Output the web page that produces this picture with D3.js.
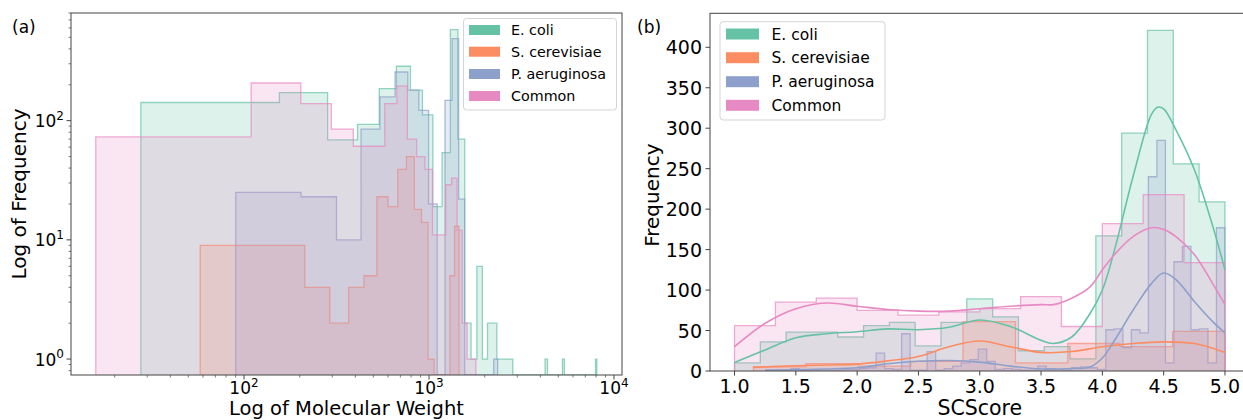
<!DOCTYPE html>
<html><head><meta charset="utf-8">
<script src="https://cdn.jsdelivr.net/npm/d3@7"></script>
<style>body{margin:0;background:#fff} svg{display:block} text{font-family:"DejaVu Sans",sans-serif;fill:#000}</style>
</head><body><svg id="c" width="1243" height="420"></svg>
<script>
// ---------- shared ----------
const seriesNames = ["E. coli", "S. cerevisiae", "P. aeruginosa", "Common"];
const seriesColors = ["#66c2a5", "#fc8d62", "#8da0cb", "#e78ac3"];

// ---------- panel (a): molecular weight histograms (linear bins, log axes) ----------
const mwBinStart = [27.7, 58, 90.2, 15.8];
const mwBinWidth = [127.7, 77.5, 113, 93.5];
const mwEcoli = [142,172,69,93,186,286,180,112,19,54,580,70,2,1,6,1,2,2,1,1,1,1,
  0,0,0,0,0,0,0,0,0,0,0,1,0,0,0,0,0,0,0,1,0,0,0,0,0,0,0,0,0,0,0,0,0,0,0,0,0,0,0,0,1];
const mwScer = [9,9,4,2,4,5,23,19,39,50,18,14,1,0,0,0,5,13];
const mwPaer = [25,23,10,85,158,256,180,122,20,0,148,488,22,0,0,0,0,0,0,1];
const mwCommon = [73,207,139,85,61,61,139,195,70,50,39,11,11,29,33,12,2,1,1];
const mwCounts = [mwEcoli, mwScer, mwPaer, mwCommon];
const mwXTicks = [100, 1000, 10000];
const mwXTickExp = ["2", "3", "4"];
const mwYTicks = [1, 10, 100];
const mwYTickExp = ["0", "1", "2"];

// ---------- panel (b): SCScore histograms + KDE ----------
const scBinStart = [1.0, 1.155, 1.2524, 1.0];
const scBinWidth = [0.2105, 0.4272, 0.0694, 0.3333];
const scEcoli = [10,36,48,48,42,56,60,31,60,89,67,25,30,15,167,294,421,256,209];
const scScer = [5,9,6,12,61,10,34,30,49];
const scPaer = [1,1,1,3,1,1,1,1,1,2,2,3,4,22,3,2,46,1,1,24,1,3,6,10,14,27,12,2,3,2,1,1,6,3,2,1,4,5,4,2,
  51,52,29,51,47,240,285,10,135,154,51,52,10,177];
const scCommon = [56,85,90,75,69,73,77,92,55,182,218,134];
const scCounts = [scEcoli, scScer, scPaer, scCommon];

const kdeEcoliX = [1.0,1.25,1.5,1.75,2.0,2.25,2.5,2.75,3.0,3.25,3.5,3.6,3.75,3.9,4.0,4.1,4.25,4.4,4.45,4.5,4.6,4.75,4.9,5.0];
const kdeEcoliY = [10.5,26,41,46,48.5,52,51,54,63,55,38,34,42,71,100,150,240,317,326,324,298,249,179,125];
const kdeScerX = [1.15,1.5,1.75,2.0,2.25,2.5,2.75,3.0,3.25,3.5,3.75,4.0,4.25,4.5,4.75,5.0];
const kdeScerY = [4.5,6.5,7.5,8.5,12.5,18,30,37,30,23,24,30,34,36,34,23];
const kdePaerX = [1.25,1.5,1.75,2.0,2.25,2.5,2.75,3.0,3.25,3.5,3.75,3.9,4.0,4.1,4.25,4.4,4.5,4.6,4.75,4.9,5.0];
const kdePaerY = [1,1.5,2.5,4,9,12,13,11,6,2.5,3,5,16,38,75,108,121,113,86,61,47];
const kdeCommonX = [1.0,1.25,1.5,1.75,2.0,2.25,2.5,2.75,3.0,3.25,3.5,3.6,3.75,3.9,4.0,4.1,4.25,4.4,4.5,4.6,4.75,4.9,5.0];
const kdeCommonY = [30,59,77,84,80,76,74,74,77,80,82,82,90,104,125,144,166,177,175,166,144,108,82];
const kdeX = [kdeEcoliX, kdeScerX, kdePaerX, kdeCommonX];
const kdeY = [kdeEcoliY, kdeScerY, kdePaerY, kdeCommonY];
const scXTicks = [1.0,1.5,2.0,2.5,3.0,3.5,4.0,4.5,5.0];
const scYTicks = [0,50,100,150,200,250,300,350,400];

// ---------- drawing ----------
const svg = d3.select("#c");
const FILL_OP = 0.22, LINE_OP = 0.7;

function stepPoints(start, width, counts, floor) {
  const e = i => start + i * width;
  const pts = [[e(0), floor]];
  counts.forEach((c, i) => {
    const v = c > 0 ? c : floor;
    pts.push([e(i), v]); pts.push([e(i + 1), v]);
  });
  pts.push([e(counts.length), floor]);
  return pts;
}

// ===== Panel A =====
const A = {l: 71, r: 622, t: 13, b: 375};
const xA = d3.scaleLog().domain([11.61, 11046]).range([A.l, A.r]);
const yA = d3.scaleLog().domain([0.735, 800]).range([A.b, A.t]);
svg.append("clipPath").attr("id", "clipA").append("rect")
  .attr("x", A.l).attr("y", A.t).attr("width", A.r - A.l).attr("height", A.b - A.t);
const gA = svg.append("g").attr("clip-path", "url(#clipA)");
const floorA = yA.domain()[0];
const lineA = d3.line().x(d => xA(d[0])).y(d => yA(d[1]));
mwCounts.forEach((counts, s) => {
  const pts = stepPoints(mwBinStart[s], mwBinWidth[s], counts, floorA);
  gA.append("path").attr("d", lineA(pts) + "Z")
    .attr("fill", seriesColors[s]).attr("fill-opacity", FILL_OP).attr("stroke", "none");
  gA.append("path").attr("d", lineA(pts))
    .attr("fill", "none").attr("stroke", seriesColors[s]).attr("stroke-opacity", LINE_OP)
    .attr("stroke-width", 1.3);
});

// axes A
const axisColor = "#444";
const gAx = svg.append("g");
xA.ticks().forEach(v => {
  const major = mwXTicks.includes(v);
  gAx.append("line").attr("x1", xA(v)).attr("x2", xA(v)).attr("y1", A.b).attr("y2", A.b + (major ? 4.5 : 2.5))
    .attr("stroke", axisColor).attr("stroke-width", major ? 1 : 0.7);
});
yA.ticks().forEach(v => {
  const major = mwYTicks.includes(v);
  gAx.append("line").attr("y1", yA(v)).attr("y2", yA(v)).attr("x1", A.l).attr("x2", A.l - (major ? 4.5 : 2.5))
    .attr("stroke", axisColor).attr("stroke-width", major ? 1 : 0.7);
});
mwXTicks.forEach((v, i) => {
  const t = gAx.append("text").attr("x", xA(v)).attr("y", A.b + 19).attr("text-anchor", "middle")
    .attr("font-size", 17);
  t.append("tspan").text("10");
  t.append("tspan").attr("dy", -7.5).attr("font-size", 12).text(mwXTickExp[i]);
});
mwYTicks.forEach((v, i) => {
  const t = gAx.append("text").attr("x", A.l - 7).attr("y", yA(v) + 6.5).attr("text-anchor", "end")
    .attr("font-size", 17);
  t.append("tspan").text("10");
  t.append("tspan").attr("dy", -7.5).attr("font-size", 12).text(mwYTickExp[i]);
});
gAx.append("rect").attr("x", A.l).attr("y", A.t).attr("width", A.r - A.l).attr("height", A.b - A.t)
  .attr("fill", "none").attr("stroke", axisColor).attr("stroke-width", 1);
svg.append("text").attr("x", (A.l + A.r) / 2).attr("y", 414.5).attr("text-anchor", "middle")
  .attr("font-size", 19.5).text("Log of Molecular Weight");
svg.append("text").attr("transform", `translate(26,${(A.t + A.b) / 2}) rotate(-90)`)
  .attr("text-anchor", "middle").attr("font-size", 20).text("Log of Frequency");
svg.append("text").attr("x", 12).attr("y", 33).attr("font-size", 17).text("(a)");

function legend(x, y, w, h, patchX, patchW, patchH, rowY, textX, fs) {
  const g = svg.append("g");
  g.append("rect").attr("x", x).attr("y", y).attr("width", w).attr("height", h).attr("rx", 3)
    .attr("fill", "#fff").attr("fill-opacity", 0.85).attr("stroke", "#d5d5d5");
  seriesNames.forEach((n, i) => {
    g.append("rect").attr("x", patchX).attr("y", rowY[i] - patchH / 2).attr("width", patchW).attr("height", patchH)
      .attr("fill", seriesColors[i]);
    g.append("text").attr("x", textX).attr("y", rowY[i] + fs * 0.36).attr("font-size", fs).text(n);
  });
}
legend(463.5, 18.5, 153, 91.5, 469, 31, 10, [30, 51.7, 74, 96], 511, 14.3);

// ===== Panel B =====
const B = {l: 710, r: 1249.5, t: 13.3, b: 371};
const xB = d3.scaleLinear().domain([0.8, 5.2]).range([B.l, B.r]);
const yB = d3.scaleLinear().domain([0, 442]).range([B.b, B.t]);
svg.append("clipPath").attr("id", "clipB").append("rect")
  .attr("x", B.l).attr("y", B.t).attr("width", B.r - B.l).attr("height", B.b - B.t);
const gB = svg.append("g").attr("clip-path", "url(#clipB)");
const lineB = d3.line().x(d => xB(d[0])).y(d => yB(d[1]));
scCounts.forEach((counts, s) => {
  const pts = stepPoints(scBinStart[s], scBinWidth[s], counts, 0);
  gB.append("path").attr("d", lineB(pts) + "Z")
    .attr("fill", seriesColors[s]).attr("fill-opacity", FILL_OP).attr("stroke", "none");
  gB.append("path").attr("d", lineB(pts))
    .attr("fill", "none").attr("stroke", seriesColors[s]).attr("stroke-opacity", LINE_OP)
    .attr("stroke-width", 1.3);
});
const kdeLine = d3.line().x(d => xB(d[0])).y(d => yB(d[1])).curve(d3.curveCatmullRom.alpha(0.5));
kdeX.forEach((xs, s) => {
  const pts = xs.map((x, i) => [x, kdeY[s][i]]);
  gB.append("path").attr("d", kdeLine(pts)).attr("fill", "none")
    .attr("stroke", seriesColors[s]).attr("stroke-width", 1.6);
});
const gBx = svg.append("g");
scXTicks.forEach(v => {
  gBx.append("line").attr("x1", xB(v)).attr("x2", xB(v)).attr("y1", B.b).attr("y2", B.b + 4.5)
    .attr("stroke", axisColor);
  gBx.append("text").attr("x", xB(v)).attr("y", B.b + 22).attr("text-anchor", "middle")
    .attr("font-size", 19).text(d3.format(".1f")(v));
});
scYTicks.forEach(v => {
  gBx.append("line").attr("y1", yB(v)).attr("y2", yB(v)).attr("x1", B.l).attr("x2", B.l - 4.5)
    .attr("stroke", axisColor);
  gBx.append("text").attr("x", B.l - 8).attr("y", yB(v) + 7).attr("text-anchor", "end")
    .attr("font-size", 19).text(v);
});
gBx.append("rect").attr("x", B.l).attr("y", B.t).attr("width", B.r - B.l).attr("height", B.b - B.t)
  .attr("fill", "none").attr("stroke", axisColor).attr("stroke-width", 1);
svg.append("text").attr("x", (B.l + B.r) / 2).attr("y", 415).attr("text-anchor", "middle")
  .attr("font-size", 20.5).text("SCScore");
svg.append("text").attr("transform", `translate(659,${(B.t + B.b) / 2 + 3}) rotate(-90)`)
  .attr("text-anchor", "middle").attr("font-size", 20).text("Frequency");
svg.append("text").attr("x", 637).attr("y", 33).attr("font-size", 17).text("(b)");
legend(720, 21.7, 165, 98.3, 726, 33, 11, [34, 57.7, 81.7, 105.3], 771.5, 15.5);
</script></body></html>
